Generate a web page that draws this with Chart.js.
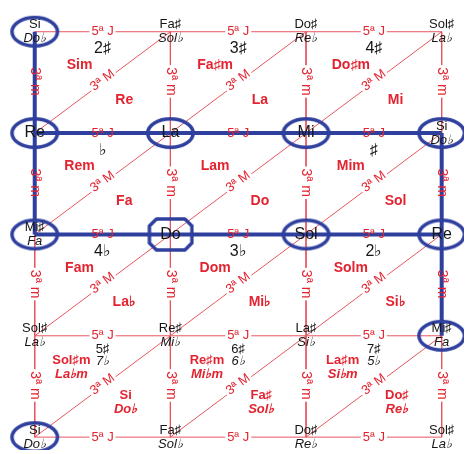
<!DOCTYPE html>
<html><head><meta charset="utf-8">
<script src="https://cdn.jsdelivr.net/npm/chart.js@4/dist/chart.umd.min.js"></script>
<style>html,body{margin:0;padding:0;background:#fff}#wrap{width:468px;height:454px}</style>
</head><body><div id="wrap"><canvas id="c"></canvas></div>
<script>
// note names at each grid node [row][col]; second entry = enharmonic (italic)
const NOTES = [
  [['Si','Do♭'], ['Fa♯','Sol♭'], ['Do♯','Re♭'], ['Sol♯','La♭']],
  [['Re'], ['La'], ['Mi'], ['Si','Do♭']],
  [['Mi♯','Fa'], ['Do'], ['Sol'], ['Re']],
  [['Sol♯','La♭'], ['Re♯','Mi♭'], ['La♯','Si♭'], ['Mi♯','Fa']],
  [['Si','Do♭'], ['Fa♯','Sol♭'], ['Do♯','Re♭'], ['Sol♯','La♭']]
];
const CIRCLED = [[0,0],[0,1],[1,1],[2,1],[3,1],[0,2],[2,2],[3,2],[3,3],[0,4]];
const BOXED = [[1,2]];
const BLUE_PATHS = [[[0,1],[3,1]], [[0,2],[3,2]], [[0,0],[0,2]], [[3,1],[3,3]]];
// per cell [row][col]
const KEYS = [
  [['2♯'], ['3♯'], ['4♯']],
  [['♭'], [], ['♯']],
  [['4♭'], ['3♭'], ['2♭']],
  [['5♯','7♭'], ['6♯','6♭'], ['7♯','5♭']]
];
const MINORS = [
  [['Sim'], ['Fa♯m'], ['Do♯m']],
  [['Rem'], ['Lam'], ['Mim']],
  [['Fam'], ['Dom'], ['Solm']],
  [['Sol♯m','La♭m'], ['Re♯m','Mi♭m'], ['La♯m','Si♭m']]
];
const MAJORS = [
  [['Re'], ['La'], ['Mi']],
  [['Fa'], ['Do'], ['Sol']],
  [['La♭'], ['Mi♭'], ['Si♭']],
  [['Si','Do♭'], ['Fa♯','Sol♭'], ['Do♯','Re♭']]
];
const FIFTH = '5ª J', MINOR_THIRD = '3ª m', MAJOR_THIRD = '3ª M';

const BLUE = '#2f3f9e', RED = '#e3232f', LINE_RED = '#e65661', INK = '#161616';
const FONT = "'Liberation Sans', Arial, sans-serif";
const ROWS = NOTES.length, COLS = NOTES[0].length;

function ring(w, h, boxed) {
  const cv = document.createElement('canvas');
  cv.width = w + 6; cv.height = h + 6;
  const g = cv.getContext('2d');
  g.strokeStyle = BLUE; g.lineWidth = 3.5; g.lineJoin = 'round';
  g.beginPath();
  if (boxed) {
    const k = 7, x0 = 3, y0 = 3, x1 = 3 + w, y1 = 3 + h;
    g.moveTo(x0 + k, y0); g.lineTo(x1 - k, y0); g.lineTo(x1, y0 + k);
    g.lineTo(x1, y1 - k); g.lineTo(x1 - k, y1); g.lineTo(x0 + k, y1);
    g.lineTo(x0, y1 - k); g.lineTo(x0, y0 + k); g.closePath();
  } else g.ellipse(cv.width / 2, cv.height / 2, w / 2, h / 2, 0, 0, Math.PI * 2);
  g.stroke();
  return cv;
}

function line(a, b, color, width, order) {
  return {
    type: 'line', data: [{x: a[0], y: a[1]}, {x: b[0], y: b[1]}],
    borderColor: color, borderWidth: width, pointRadius: 0, order: order,
    tension: 0, fill: false
  };
}

function onBlue(a, b) {
  return BLUE_PATHS.some(([p, q]) =>
    (p[1] === q[1] && a[1] === p[1] && b[1] === p[1] && Math.min(a[0], b[0]) >= p[0] && Math.max(a[0], b[0]) <= q[0]) ||
    (p[0] === q[0] && a[0] === p[0] && b[0] === p[0] && Math.min(a[1], b[1]) >= p[1] && Math.max(a[1], b[1]) <= q[1]));
}

const datasets = [];
const ringEl = ring(45.5, 28.5, false), boxEl = ring(42.5, 31, true);
const nodePts = CIRCLED.map(([c, r]) => ({x: c, y: r})).concat(BOXED.map(([c, r]) => ({x: c, y: r})));
datasets.push({
  type: 'scatter', data: nodePts, order: 0,
  pointStyle: CIRCLED.map(() => ringEl).concat(BOXED.map(() => boxEl)),
  pointRadius: 1, pointBorderWidth: 0
});
BLUE_PATHS.forEach(([a, b]) => datasets.push(line(a, b, BLUE, 4, 1)));
for (let r = 0; r < ROWS; r++) datasets.push(line([0, r], [COLS - 1, r], LINE_RED, 1, 2));
for (let c = 0; c < COLS; c++) datasets.push(line([c, 0], [c, ROWS - 1], LINE_RED, 1, 2));
for (let r = 0; r < ROWS - 1; r++)
  for (let c = 0; c < COLS - 1; c++) datasets.push(line([c, r + 1], [c + 1, r], LINE_RED, 1, 2));

function txt(ctx, s, x, y, font, color, rot, bg) {
  ctx.save();
  ctx.translate(x, y);
  if (rot) ctx.rotate(rot);
  ctx.font = font;
  ctx.textAlign = 'center'; ctx.textBaseline = 'middle';
  if (bg) {
    const w = ctx.measureText(s).width;
    ctx.fillStyle = '#fff';
    ctx.fillRect(-w / 2 - 2, -6, w + 4, 12);
  }
  ctx.fillStyle = color;
  ctx.fillText(s, 0, 0);
  ctx.restore();
}

const labels = {
  id: 'labels',
  afterDatasetsDraw(chart) {
    const ctx = chart.ctx, X = chart.scales.x, Y = chart.scales.y;
    const px = v => X.getPixelForValue(v), py = v => Y.getPixelForValue(v);
    // interval labels on edges
    for (let r = 0; r < ROWS; r++)
      for (let c = 0; c < COLS - 1; c++)
        txt(ctx, FIFTH, px(c + 0.5), py(r), '13px ' + FONT, RED, 0, !onBlue([c, r], [c + 1, r]));
    for (let c = 0; c < COLS; c++)
      for (let r = 0; r < ROWS - 1; r++)
        txt(ctx, MINOR_THIRD, px(c), py(r + 0.5) - 1, '14px ' + FONT, RED, Math.PI / 2, !onBlue([c, r], [c, r + 1]));
    const ang = Math.atan2(py(0) - py(1), px(1) - px(0));
    for (let r = 0; r < ROWS - 1; r++)
      for (let c = 0; c < COLS - 1; c++)
        txt(ctx, MAJOR_THIRD, px(c + 0.5), py(r + 0.5) - 2, '13px ' + FONT, RED, ang, true);
    // cell labels
    for (let r = 0; r < ROWS - 1; r++)
      for (let c = 0; c < COLS - 1; c++) {
        const k = KEYS[r][c], mi = MINORS[r][c], ma = MAJORS[r][c];
        if (k.length === 1) txt(ctx, k[0], px(c + 0.5), py(r + 0.17), '16px ' + FONT, INK);
        else if (k.length === 2) {
          txt(ctx, k[0], px(c + 0.5), py(r + 0.135), '13px ' + FONT, INK);
          txt(ctx, k[1], px(c + 0.5), py(r + 0.255), 'italic 13px ' + FONT, INK);
        }
        if (mi.length === 1) txt(ctx, mi[0], px(c + 0.33), py(r + 0.33), 'bold 14px ' + FONT, RED);
        else {
          txt(ctx, mi[0], px(c + 0.27), py(r + 0.245), 'bold 13px ' + FONT, RED);
          txt(ctx, mi[1], px(c + 0.27), py(r + 0.385), 'italic bold 13px ' + FONT, RED);
        }
        if (ma.length === 1) txt(ctx, ma[0], px(c + 0.66), py(r + 0.67), 'bold 14px ' + FONT, RED);
        else {
          txt(ctx, ma[0], px(c + 0.67), py(r + 0.59), 'bold 13px ' + FONT, RED);
          txt(ctx, ma[1], px(c + 0.67), py(r + 0.725), 'italic bold 13px ' + FONT, RED);
        }
      }
    // node names
    for (let r = 0; r < ROWS; r++)
      for (let c = 0; c < COLS; c++) {
        const n = NOTES[r][c], x = px(c), y = py(r);
        if (n.length === 1) txt(ctx, n[0], x, y, '16px ' + FONT, INK);
        else {
          txt(ctx, n[0], x, y - 7, '13px ' + FONT, INK);
          txt(ctx, n[1], x, y + 7, 'italic 13px ' + FONT, INK);
        }
      }
  }
};

new Chart(document.getElementById('c'), {
  type: 'scatter',
  data: {datasets},
  options: {
    responsive: true, maintainAspectRatio: false, animation: false,
    layout: {padding: 0},
    plugins: {legend: {display: false}, tooltip: {enabled: false}},
    scales: {
      x: {type: 'linear', display: false, min: -0.2266, max: 3.1645},
      y: {type: 'linear', display: false, reverse: true, min: -0.2738, max: 4.127}
    }
  },
  plugins: [labels]
});
</script></body></html>
